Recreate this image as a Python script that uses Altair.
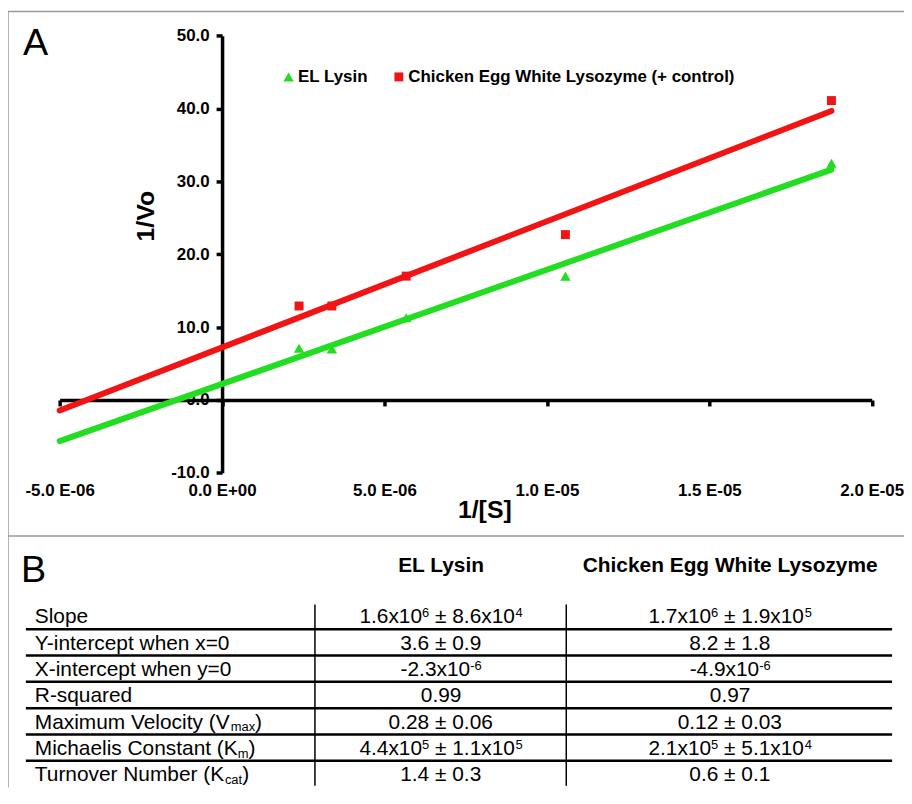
import re
import altair as alt
import pandas as pd

# ---------------- data ----------------
inv_s = [2.37e-6, 3.38e-6, 5.67e-6, 1.057e-5, 1.876e-5]          # 1/[S]
el_lysin = [7.1, 7.0, 11.3, 17.0, 32.5]                          # 1/Vo, EL Lysin
cew_lysozyme = [12.9, 12.9, 17.0, 22.7, 41.1]                    # 1/Vo, CEW lysozyme
series_names = ["EL Lysin", "Chicken Egg White Lysozyme (+ control)"]
series_colors = ["#22dd22", "#f01414"]
series_shapes = ["triangle-up", "square"]
fit_extent = [-5e-6, 1.876e-5]

x_ticks = [-5e-6, 0, 5e-6, 1e-5, 1.5e-5, 2e-5]
y_ticks = [-10, 0, 10, 20, 30, 40, 50]

table_headers = ["EL Lysin", "Chicken Egg White Lysozyme"]
row_labels = ["Slope", "Y-intercept when x=0", "X-intercept when y=0", "R-squared",
              "Maximum Velocity (V_{max})", "Michaelis Constant (K_{m})",
              "Turnover Number (K_{cat})"]
el_values = ["1.6x10^{6} \u00b1 8.6x10^{4}", "3.6 \u00b1 0.9", "-2.3x10^{-6}", "0.99",
             "0.28 \u00b1 0.06", "4.4x10^{5} \u00b1 1.1x10^{5}", "1.4 \u00b1 0.3"]
cew_values = ["1.7x10^{6} \u00b1 1.9x10^{5}", "8.2 \u00b1 1.8", "-4.9x10^{-6}", "0.97",
              "0.12 \u00b1 0.03", "2.1x10^{5} \u00b1 5.1x10^{4}", "0.6 \u00b1 0.1"]

# ---------------- layout ----------------
FONT = "Liberation Sans, Arial, sans-serif"
W, H = 902, 781
X_RANGE = [52, 869.5]
Y_RANGE = [464.3, 24.3]
SEP_Y = 528
ROW_RANGE = [608.5, 767.5]
LABEL_LEFT = 27
COL_CENTERS = [436, 727]
COL_DIVIDERS = [309, 562]
FRAME = "#9a9a9a"

# Arial / Liberation Sans advance widths (1/1000 em)
AW = {' ': 278, '(': 333, ')': 333, '+': 584, '-': 333, '.': 278, '/': 278, '=': 584,
      '\u00b1': 584, 'x': 500}
for d in "0123456789":
    AW[d] = 556
AW.update({'A': 667, 'B': 667, 'C': 722, 'K': 667, 'M': 833, 'N': 722, 'R': 722, 'S': 667,
           'T': 611, 'V': 667, 'X': 667, 'Y': 667,
           'a': 556, 'c': 500, 'd': 556, 'e': 556, 'h': 556, 'i': 222, 'l': 222, 'm': 833,
           'n': 556, 'o': 556, 'p': 556, 'q': 556, 'r': 333, 's': 500, 't': 278, 'u': 556,
           'v': 500, 'w': 722, 'y': 500, 'b': 556, 'g': 556, 'k': 500, 'f': 278})
SIZES = {"normal": 21, "sup": 13, "sub": 13}
DY = {"normal": 7.5, "sup": 1.0, "sub": 10.0}


def tw(s, size):
    return sum(AW.get(c, 556) for c in s) * size / 1000.0


def parse(m):
    out = []
    for tok in re.split(r"(\^\{[^}]*\}|_\{[^}]*\})", m):
        if not tok:
            continue
        if tok.startswith("^{"):
            out.append(("sup", tok[2:-1]))
        elif tok.startswith("_{"):
            out.append(("sub", tok[2:-1]))
        else:
            out.append(("normal", tok))
    return out


pieces = []


def place(markup, row, left=None, center=None):
    segs = parse(markup)
    total = sum(tw(t, SIZES[k]) for k, t in segs)
    x = left if left is not None else center - total / 2.0
    for k, t in segs:
        lead = len(t) - len(t.lstrip(" "))
        pieces.append({"kind": k, "px": x + tw(" " * lead, SIZES[k]), "row": row, "text": t.strip()})
        x += tw(t, SIZES[k])


for i, lab in enumerate(row_labels):
    place(lab, i, left=LABEL_LEFT)
for c, vals in zip(COL_CENTERS, [el_values, cew_values]):
    for i, v in enumerate(vals):
        place(v, i, center=c)
pieces_df = pd.DataFrame(pieces)

# ---------------- panel A ----------------
rows = []
for name, col, ys in zip(series_names, series_colors, [el_lysin, cew_lysozyme]):
    for xv, yv in zip(inv_s, ys):
        rows.append({"x": xv, "y": yv, "series": name, "color": col})
pts_df = pd.DataFrame(rows)

MINUS = "\u2212"
x_label_expr = (f"replace(replace(replace(replace(format(datum.value, '.1e'), 'e{MINUS}', ' E-0'),"
                f" 'e-', ' E-0'), 'e+', ' E+0'), '{MINUS}', '-')")
y_label_expr = f"replace(format(datum.value, '.1f'), '{MINUS}', '-')"

axis_common = dict(domainColor="black", domainWidth=3.5, tickColor="black", tickWidth=3.5,
                   tickSize=6, labelFont=FONT, labelFontWeight="bold", labelFontSize=17,
                   labelColor="black", titleFont=FONT, titleFontWeight="bold", titleFontSize=25,
                   titleColor="black", grid=False, labelFlush=False)

x_scale = alt.Scale(domain=[x_ticks[0], x_ticks[-1]], range=X_RANGE, nice=False, zero=False)
y_scale = alt.Scale(domain=[y_ticks[0], y_ticks[-1]], range=Y_RANGE, nice=False, zero=False)
x_axis = alt.Axis(values=x_ticks, orient="bottom", offset=-(H - 391), labelPadding=77,
                  labelExpr=x_label_expr, title="1/[S]", titleX=479.5, titleY=110,
                  titleBaseline="middle", titleAlign="center", **axis_common)
y_axis = alt.Axis(values=y_ticks, orient="left", offset=-215.5, labelPadding=7,
                  labelExpr=y_label_expr, title="1/Vo", titleX=-77.5, titleY=205.5,
                  titleAngle=270, titleBaseline="middle", titleAlign="center", **axis_common)

legend = alt.Legend(orient="none", legendX=274, legendY=57, direction="horizontal", title=None,
                    labelFont=FONT, labelFontWeight="bold", labelFontSize=17, labelColor="black",
                    labelLimit=0, symbolSize=100, labelOffset=1, columnPadding=22,
                    symbolStrokeWidth=0)

fit_lines = alt.Chart(pts_df).transform_regression(
    "x", "y", groupby=["series", "color"], extent=fit_extent
).mark_line(strokeWidth=6, strokeCap="round").encode(
    x=alt.X("x:Q", scale=x_scale, axis=x_axis),
    y=alt.Y("y:Q", scale=y_scale, axis=y_axis),
    color=alt.Color("color:N", scale=None),
    detail="series:N",
)

points = alt.Chart(pts_df).mark_point(filled=True, opacity=1, strokeWidth=0).encode(
    x=alt.X("x:Q", scale=x_scale, axis=x_axis),
    y=alt.Y("y:Q", scale=y_scale, axis=y_axis),
    color=alt.Color("series:N", scale=alt.Scale(domain=series_names, range=series_colors), legend=legend),
    shape=alt.Shape("series:N", scale=alt.Scale(domain=series_names, range=series_shapes), legend=legend),
    size=alt.Size("series:N", scale=alt.Scale(domain=series_names, range=[110, 81]), legend=None),
)

panel_a = alt.layer(fit_lines, points)

# ---------------- frame & panel letters ----------------
dummy = pd.DataFrame({"d": [0]})
frame_top = alt.Chart(dummy).mark_rule(color=FRAME, strokeWidth=1.5).encode(
    x=alt.value(0), x2=alt.value(W), y=alt.value(0))
frame_left = alt.Chart(dummy).mark_rule(color=FRAME, strokeWidth=1.5).encode(
    x=alt.value(0), y=alt.value(0), y2=alt.value(H))
frame_sep = alt.Chart(dummy).mark_rule(color=FRAME, strokeWidth=1.5).encode(
    x=alt.value(0), x2=alt.value(W), y=alt.value(SEP_Y))
letter_a = alt.Chart(dummy).mark_text(text="A", font=FONT, fontSize=38, align="left",
                                      baseline="alphabetic", color="black").encode(
    x=alt.value(15), y=alt.value(44))
letter_b = alt.Chart(dummy).mark_text(text="B", font=FONT, fontSize=38, align="left",
                                      baseline="alphabetic", color="black").encode(
    x=alt.value(13), y=alt.value(574))

# ---------------- panel B (table) ----------------
def row_scale():
    return alt.Scale(domain=[0, len(row_labels) - 1], range=ROW_RANGE, nice=False, zero=False)


hdr_df = pd.DataFrame({"text": table_headers, "px": COL_CENTERS, "row": [-1.95] * 2})
headers = alt.Chart(hdr_df).mark_text(font=FONT, fontSize=21, fontWeight="bold", align="center",
                                      baseline="alphabetic", dy=7.5, color="black").encode(
    x=alt.X("px:Q", scale=None), y=alt.Y("row:Q", scale=row_scale(), axis=None), text="text:N")

text_layers = []
for kind in ["normal", "sup", "sub"]:
    sub_df = pieces_df[pieces_df["kind"] == kind]
    text_layers.append(
        alt.Chart(sub_df).mark_text(font=FONT, fontSize=SIZES[kind], align="left",
                                    baseline="alphabetic", dy=DY[kind], color="black").encode(
            x=alt.X("px:Q", scale=None), y=alt.Y("row:Q", scale=row_scale(), axis=None),
            text="text:N"))

hline_df = pd.DataFrame({"b": [i + 0.5 for i in range(len(row_labels) - 1)]})
hlines = alt.Chart(hline_df).mark_rule(color="black", strokeWidth=2.5).encode(
    y=alt.Y("b:Q", scale=row_scale(), axis=None), x=alt.value(18), x2=alt.value(890))
vline_df = pd.DataFrame({"px": COL_DIVIDERS, "top": [-0.44] * 2, "bot": [6.45] * 2})
vlines = alt.Chart(vline_df).mark_rule(color="black", strokeWidth=1.5).encode(
    x=alt.X("px:Q", scale=None), y=alt.Y("top:Q", scale=row_scale(), axis=None), y2="bot:Q")

chart = alt.layer(
    frame_top, frame_left, frame_sep, letter_a, letter_b,
    panel_a, hlines, vlines, headers, *text_layers
).resolve_scale(x="independent", y="independent").properties(
    width=W, height=H,
    autosize=alt.AutoSizeParams(type="none"),
    padding={"left": 0, "top": 1, "right": 0, "bottom": 0},
).configure_view(stroke=None)

chart.save("out.html", embed_options={"renderer": "svg", "actions": False})
